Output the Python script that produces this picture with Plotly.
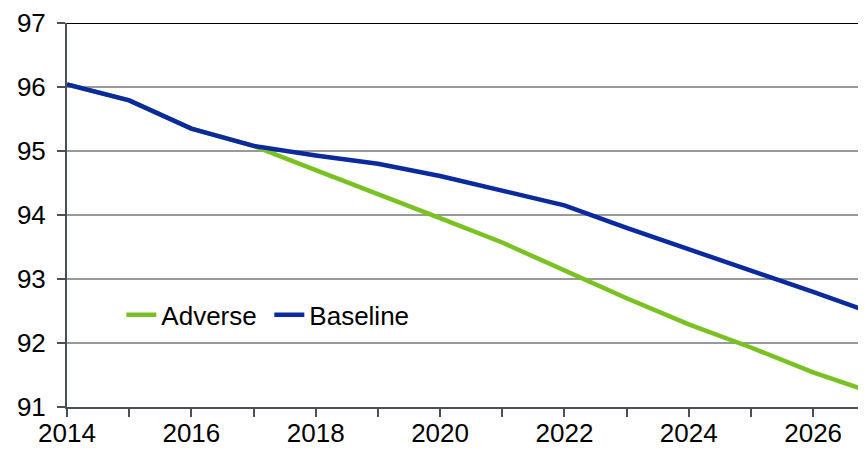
import plotly.graph_objects as go

years = list(range(2014, 2028))
baseline = [96.04, 95.79, 95.35, 95.08, 94.93, 94.80, 94.61, 94.38, 94.15, 93.80, 93.46, 93.13, 92.80, 92.45]
adverse = [96.04, 95.79, 95.35, 95.08, 94.70, 94.33, 93.95, 93.57, 93.14, 92.70, 92.29, 91.93, 91.54, 91.21]

FONT = "Liberation Sans, Arial, sans-serif"
AXIS = "#4a4f55"

fig = go.Figure()
fig.add_trace(go.Scatter(x=years, y=adverse, mode="lines", name="Adverse",
                         line=dict(color="#7ac124", width=4.5)))
fig.add_trace(go.Scatter(x=years, y=baseline, mode="lines", name="Baseline",
                         line=dict(color="#0a2a9e", width=4.5)))

fig.add_shape(type="line", xref="paper", yref="y", x0=0, x1=1, y0=97, y1=97,
              line=dict(color="black", width=2))

# page body has an 8px default margin, so the figure is sized to fit the window
fig.update_layout(
    width=858, height=441,
    margin=dict(l=59, r=0, t=15, b=42, autoexpand=False),
    paper_bgcolor="white", plot_bgcolor="white",
    font=dict(family=FONT, size=26, color="black"),
    showlegend=True,
    legend=dict(orientation="h", x=0.068, y=0.24, xanchor="left", yanchor="middle",
                bgcolor="rgba(0,0,0,0)", font=dict(size=26), itemwidth=30,
                entrywidth=103, tracegroupgap=0),
    xaxis=dict(range=[2014, 2026.85], tickmode="linear", tick0=2014, dtick=2,
               automargin=False, ticklabelstandoff=-6,
               ticks="outside", ticklen=8, tickwidth=1.5, tickcolor=AXIS,
               showline=True, linecolor=AXIS, linewidth=2, showgrid=False,
               zeroline=False, tickfont=dict(size=26),
               minor=dict(dtick=1, tick0=2014, ticks="outside", ticklen=8,
                          tickwidth=1.5, tickcolor=AXIS, showgrid=False)),
    yaxis=dict(range=[91, 97], tickmode="linear", tick0=91, dtick=1,
               automargin=False, ticklabelstandoff=6,
               ticks="outside", ticklen=8, tickwidth=1.5, tickcolor=AXIS,
               showline=True, linecolor=AXIS, linewidth=2,
               showgrid=True, gridcolor="#999999", gridwidth=1.5,
               zeroline=False, tickfont=dict(size=26)),
)

fig.write_html("out.html")
